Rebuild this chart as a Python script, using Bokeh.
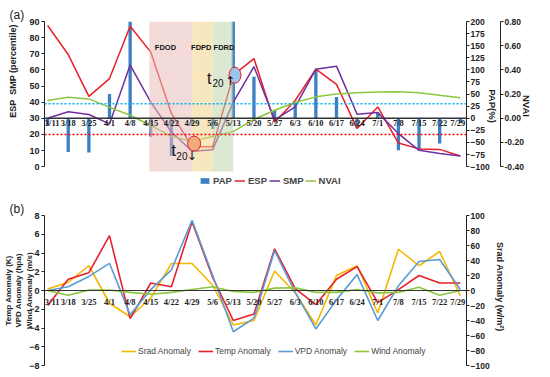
from bokeh.plotting import figure
from bokeh.models import (Range1d, LinearAxis, FixedTicker, Span, Label, LabelSet,
                          Legend, LegendItem, NumeralTickFormatter, ColumnDataSource)
from bokeh.layouts import column
from bokeh.embed import file_html
from bokeh.resources import INLINE
from bokeh.core.properties import value

# ---------------- data ----------------
dates = ["3/11", "3/18", "3/25", "4/1", "4/8", "4/15", "4/22", "4/29", "5/6", "5/13",
         "5/20", "5/27", "6/3", "6/10", "6/17", "6/24", "7/1", "7/8", "7/15", "7/22", "7/29"]
pap = [-15, -70, -71, 50, 200, -38, -78, -15, -22, 200, 86, 17, 32, 100, 44, -20, 12, -66, -65, -52, -10]
esp = [87.5, 69.5, 43.6, 54.6, 87, 71, 33, 12.4, 12.4, 56.7, 67, 27.5, 41, 60.5, 51, 23.6, 37, 14.6, 11, 10.7, 6.6]
smp = [30, 34, 32.3, 26.5, 63, 40, 21.5, 9.5, 10.5, 40, 62, 29, 37, 60.4, 62.3, 32.5, 33.5, 20.5, 10.1, 8.1, 6.6]
nvai = [0.147, 0.173, 0.16, 0.09, 0.025, -0.06, -0.15, -0.19, -0.15, -0.11, -0.01, 0.066, 0.13, 0.177, 0.2,
        0.21, 0.218, 0.22, 0.21, 0.19, 0.17]
esp_threshold = 20
smp_reference = 39
stages = ["FDOD", "FDPD", "FDRD"]
stage_start = [4.93, 7, 8]
stage_end = [7, 8, 9]
onset_point = (7.1, 14.3)
recovery_point = (9.08, 56.7)

srad = [2, 11, 33, -17, -35, -10, 36, 36, 7, -46, -40, 26, -3, -46, 20, 33, -30, 55, 33, 52, -7]
temp = [-1.6, 1.2, 1.9, 5.85, -3.0, 0.8, 0.4, 7.3, 1.4, -3.2, -2.5, 4.45, 0.2, -1.5, 1.2, 2.55, -1.3, 0.1, 1.6, 0.8, 0.8]
vpd = [0, 0.4, 1.5, 2.9, -2.6, 0.1, 2.2, 7.5, 1.6, -4.4, -2.95, 4.25, -0.2, -4.1, -1.0, 1.7, -3.2, 0.5, 3.1, 3.3, 0.1]
wind = [0, -0.5, 0.05, 0.05, -0.2, -0.4, -0.2, 0.1, 0.4, -0.1, -0.2, 0.25, 0.3, -0.2, -0.2, 0.1, -0.25, -0.2, 0.35, -0.5, 0]

# ---------------- style ----------------
FONT = "Liberation Sans"
BAR = "#3d7fc1"
RED = "#e8202a"
PURPLE = "#7030a0"
GREEN = "#8cc63f"
ORANGE = "#f5b700"
BLUE2 = "#5b9bd5"
stage_colors = ["#e9bdb9", "#f2d289", "#bfd5ad"]
NB = "\u00a0"

W = 534
BL, BR = 35, 40
XMIN, XMAX = -0.15, 20.3
idx = list(range(len(dates)))
label_shift = [4.5] + [0] * (len(dates) - 2) + [-2.5]
Y1MIN = -14.8   # extra room under the axes for the legend


def style_axis(ax, title_size="9.5px", label_size="9px"):
    ax.axis_line_color = "#222222"
    ax.axis_line_width = 1
    ax.major_tick_line_color = "#222222"
    ax.major_tick_out = 3
    ax.major_tick_in = 0
    ax.minor_tick_line_color = None
    ax.major_label_text_font = FONT
    ax.major_label_text_font_size = label_size
    ax.major_label_text_font_style = "bold"
    ax.major_label_text_color = "#222222"
    ax.major_label_standoff = 2
    ax.axis_label_text_font = FONT
    ax.axis_label_text_font_size = title_size
    ax.axis_label_text_font_style = "bold"
    ax.axis_label_text_color = "#222222"


def style_title(p, text):
    p.title.text = text
    p.title.align = "left"
    p.title.offset = -BL
    p.title.standoff = 0
    p.title.text_font = FONT
    p.title.text_font_size = "12px"
    p.title.text_font_style = "normal"
    p.title.text_color = "#222222"


# ---------------- panel (a) ----------------
p1 = figure(width=W, height=191, output_backend="svg", toolbar_location=None,
            x_range=Range1d(XMIN, XMAX), y_range=Range1d(Y1MIN, 90), x_axis_location=None,
            min_border_left=BL, min_border_right=BR, min_border_top=21, min_border_bottom=1)
p1.grid.visible = False
p1.outline_line_color = None
style_title(p1, "(a)")

p1.yaxis.ticker = FixedTicker(ticks=list(range(0, 91, 10)))
p1.yaxis.bounds = (0, 90)
style_axis(p1.yaxis[0], "9px")
p1.yaxis.axis_label = NB * 28 + "ESP" + NB * 2 + "SMP (percentile)"
p1.yaxis.axis_label_standoff = 8

p1.extra_y_ranges = {"pap": Range1d(Y1MIN * 300 / 90 - 100, 200),
                     "nvai": Range1d(Y1MIN * 1.2 / 90 - 0.4, 0.8)}
ax_pap = LinearAxis(y_range_name="pap", ticker=FixedTicker(ticks=list(range(-100, 201, 25))),
                    bounds=(-100, 200), axis_label="PAP(%)")
ax_nv = LinearAxis(y_range_name="nvai", ticker=FixedTicker(ticks=[-0.4, -0.2, 0, 0.2, 0.4, 0.6, 0.8]),
                   formatter=NumeralTickFormatter(format="0.00"), bounds=(-0.4, 0.8),
                   axis_label="NVAI")
style_axis(ax_pap, label_size="8.5px")
style_axis(ax_nv, label_size="8.5px")
for ax in (ax_pap, ax_nv):
    ax.major_label_standoff = 1
    ax.axis_label_standoff = -6
p1.add_layout(ax_pap, "right")
p1.add_layout(ax_nv, "right")

bars = p1.vbar(x=idx, top=pap, bottom=0, width=0.16, y_range_name="pap", fill_color=BAR, line_color=None)
r_esp = p1.line(idx, esp, line_color=RED, line_width=1.5)
r_smp = p1.line(idx, smp, line_color=PURPLE, line_width=1.5)
r_nv = p1.line(idx, nvai, y_range_name="nvai", line_color=GREEN, line_width=1.5)
p1.quad(left=stage_start, right=stage_end, bottom=-3, top=90, fill_color=stage_colors,
        fill_alpha=0.55, line_color=None)

p1.add_layout(Span(location=30, dimension="width", line_color="#333333", line_width=1.3))
p1.add_layout(Span(location=smp_reference, dimension="width", line_color="#00b0f0",
                   line_dash="2 2", line_width=1.5))
p1.add_layout(Span(location=esp_threshold, dimension="width", line_color="#ff0000",
                   line_dash="2 2", line_width=1.5))

p1.ellipse(x=[onset_point[0]], y=[onset_point[1]], width=13, height=15, width_units="screen",
           height_units="screen", fill_color="#f2a97c", line_color=RED, line_width=1)
p1.ellipse(x=[recovery_point[0]], y=[recovery_point[1]], width=12, height=16, width_units="screen",
           height_units="screen", fill_color="#9dc3e6", line_color=RED, line_width=1)

p1.text(x=[5.71, 7.45, 8.55], y=[73.9] * 3, text=stages, text_font=value(FONT), text_font_size="7.5px",
        text_font_style="bold", text_align="center", text_baseline="middle", text_color="#111111")

for (x, y, t, s, f) in [(6.01, 10.1, "t", "16px", FONT), (6.24, 6.4, "20", "10px", FONT),
                        (6.74, 6.6, "\u2193", "12px", "DejaVu Sans"),
                        (7.73, 54.6, "t", "16px", FONT), (7.99, 52.0, "20", "10px", FONT),
                        (8.6, 53.2, "\u2191", "12px", "DejaVu Sans")]:
    p1.add_layout(Label(x=x, y=y, text=t, text_align="left", text_baseline="middle",
                        text_font=f, text_font_size=s, text_color="#111111"))

src1 = ColumnDataSource(dict(x=idx, y=[30 - 5 * 93 / 150] * len(dates), text=dates, xo=label_shift))
p1.add_layout(LabelSet(x="x", y="y", text="text", x_offset="xo", source=src1, text_align="center",
                       text_baseline="middle", text_font=FONT, text_font_size="8.5px",
                       text_font_style="bold", text_color="#222222"))

leg1 = Legend(items=[LegendItem(label="PAP", renderers=[bars]), LegendItem(label="ESP", renderers=[r_esp]),
                     LegendItem(label="SMP", renderers=[r_smp]), LegendItem(label="NVAI", renderers=[r_nv])],
              orientation="horizontal", location=(155, 4), border_line_color=None,
              background_fill_alpha=0, padding=0, margin=0, spacing=1, glyph_width=11, glyph_height=7,
              label_standoff=3, label_text_font=FONT, label_text_font_size="9.5px",
              label_text_font_style="bold", label_height=10)
p1.add_layout(leg1)

# ---------------- panel (b) ----------------
p2 = figure(width=W, height=179, output_backend="svg", toolbar_location=None,
            x_range=Range1d(XMIN, XMAX), y_range=Range1d(-8, 8), x_axis_location=None,
            min_border_left=BL, min_border_right=BR, min_border_top=24, min_border_bottom=5)
p2.grid.visible = False
p2.outline_line_color = None
style_title(p2, "(b)")

p2.yaxis.ticker = FixedTicker(ticks=list(range(-8, 9, 2)))
style_axis(p2.yaxis[0], "8px")
p2.yaxis.axis_label = "Temp Anomaly (K)\nVPD Anomaly (hpa)\nWind Anomaly (m/s)"
p2.yaxis.axis_label_standoff = -8
p2.extra_y_ranges = {"srad": Range1d(-100, 100)}
ax_srad = LinearAxis(y_range_name="srad", ticker=FixedTicker(ticks=list(range(-100, 101, 20))),
                     axis_label="Srad Anomaly (w/m\u00b2)" + NB * 3)
style_axis(ax_srad, "9px", "8.5px")
ax_srad.major_label_standoff = 1
ax_srad.axis_label_standoff = 2
p2.add_layout(ax_srad, "right")

r_srad = p2.line(idx, srad, y_range_name="srad", line_color=ORANGE, line_width=1.6)
r_temp = p2.line(idx, temp, line_color=RED, line_width=1.6)
r_vpd = p2.line(idx, vpd, line_color=BLUE2, line_width=1.6)
r_wind = p2.line(idx, wind, line_color=GREEN, line_width=1.6)
p2.add_layout(Span(location=0, dimension="width", line_color="#333333", line_width=1.2))

src2 = ColumnDataSource(dict(x=idx, y=[-11.5 * 16 / 150] * len(dates), text=dates, xo=label_shift))
p2.add_layout(LabelSet(x="x", y="y", text="text", x_offset="xo", source=src2, text_align="center",
                       text_baseline="middle", text_font=FONT, text_font_size="8.5px",
                       text_font_style="bold", text_color="#222222"))

leg2 = Legend(items=[LegendItem(label="Srad Anomaly", renderers=[r_srad]),
                     LegendItem(label="Temp Anomaly", renderers=[r_temp]),
                     LegendItem(label="VPD Anomaly", renderers=[r_vpd]),
                     LegendItem(label="Wind Anomaly", renderers=[r_wind])],
              orientation="horizontal", location=(77, 9), border_line_color=None,
              background_fill_alpha=0, padding=0, margin=0, spacing=7, glyph_width=15, glyph_height=10,
              label_standoff=2, label_text_font=FONT, label_text_font_size="8.5px", label_height=10)
p2.add_layout(leg2)

layout = column(p1, p2)
open("out.html", "w").write(file_html(layout, INLINE))
